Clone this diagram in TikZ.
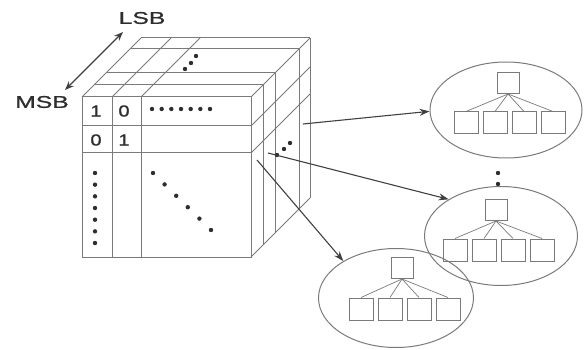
\documentclass[tikz,border=0pt]{standalone}
\usepackage{fontspec}
\setmainfont{Liberation Sans}
\newfontfamily\labelfont[FakeBold=0.8]{Liberation Sans}
\usetikzlibrary{shapes.geometric,arrows.meta}
\definecolor{edge}{gray}{0.48}
\definecolor{ink}{gray}{0.18}
\definecolor{arrowink}{gray}{0.25}

% a small tree: #1 name, #2/#3 root centre, #4 leaf row y, #5 first leaf x
\newcommand\treeat[5]{%
  \node[rootbox] (#1r) at (#2,#3) {};
  \foreach \k in {0,1,2,3} {
    \node[leafbox] (#1c\k) at ({#5+29*\k},#4) {};
    \draw[twig] (#1r.south) -- (#1c\k.north);
  }%
}

\begin{document}
\begin{tikzpicture}[x=1pt,y=-1pt,
  cube/.style={draw=edge, line width=1pt},
  rootbox/.style={draw=edge, line width=1pt, minimum width=22, minimum height=21, inner sep=0},
  leafbox/.style={draw=edge, line width=1pt, minimum width=24, minimum height=22, inner sep=0},
  twig/.style={draw=edge, line width=0.7pt},
  blob/.style={ellipse, draw=edge, line width=1pt, inner sep=0},
  lbl/.style={text=ink, font=\labelfont\fontsize{17}{17}\selectfont, xscale=1.45, inner sep=1},
  digit/.style={text=ink, font=\labelfont\fontsize{16}{16}\selectfont, xscale=1.25, inner sep=1},
  link/.style={draw=arrowink, line width=1.1pt, -{Stealth[length=10pt,width=7pt]}},
  dbl/.style={draw=arrowink, line width=1.1pt, {Stealth[length=9pt,width=7pt]}-{Stealth[length=9pt,width=7pt]}},
]
\useasboundingbox (0,0) rectangle (584,350);

% ---- the bit-matrix block ----
% top face slice edges and side verticals
\foreach \d in {0,12,24,48,59} {
  \draw[cube] ({82+\d},{97-\d}) -- ({251+\d},{97-\d});
  \draw[cube] ({251+\d},{97-\d}) -- ({251+\d},{257-\d});
}
% depth edges
\draw[cube] (82,97) -- (141,38);
\draw[cube] (251,97) -- (310,38);
\draw[cube] (251,257) -- (310,198);
% column lines on top, row lines on the side
\draw[cube] (112,97) -- (171,38);
\draw[cube] (141,97) -- (200,38);
\draw[cube] (251,126) -- (310,67);
\draw[cube] (251,153) -- (310,94);
% front face grid
\draw[cube] (82,97) rectangle (251,257);
\draw[cube] (112,97) -- (112,257);
\draw[cube] (141,97) -- (141,257);
\draw[cube] (82,126) -- (251,126);
\draw[cube] (82,153) -- (251,153);

% entries
\node[digit] (a11) at (96,111) {1};
\node[digit] (a12) at (124,111) {0};
\node[digit] (a21) at (96,140) {0};
\node[digit] (a22) at (124,140) {1};

% ellipsis dots
\foreach \i in {0,...,6} \fill[ink] ({152+9.67*\i},109) circle (2.2);
\foreach \i in {0,...,6} \fill[ink] (95,{173+11.67*\i}) circle (2.2);
\foreach \i in {0,...,5} \fill[ink] ({153+11.6*\i},{173+11.4*\i}) circle (2.2);
\foreach \p in {(185,69),(191,63),(196,56)} \fill[ink] \p circle (2.2);
\foreach \p in {(277,155),(284,149),(290,143)} \fill[ink] \p circle (2.2);
\foreach \p in {(498,173),(498,184)} \fill[ink] \p circle (2.2);

% bit-order labels
\node[lbl] (lsb) at (142,18) {LSB};
\node[lbl] (msb) at (42,102) {MSB};
\coordinate (msbend) at (65,90);
\coordinate (lsbend) at (123,32);
\draw[dbl] (msbend) -- (lsbend);

% ---- tree groups ----
\node[blob, minimum width=152, minimum height=96] (e1) at (506,110) {};
\node[blob, minimum width=153, minimum height=99] (e2) at (501,236) {};
\node[blob, minimum width=155, minimum height=99] (e3) at (396,298) {};
\treeat{t1}{508}{83}{123}{466}
\treeat{t2}{496}{210}{250}{455}
\treeat{t3}{402}{268}{309}{361}

% ---- links from the block to the trees ----
\coordinate (s1) at (303,124);
\coordinate (s2) at (268,153);
\coordinate (s3) at (257,160);
\draw[link] (s1) -- (e1.181);
\draw[link] (s2) -- (e2.145);
\draw[link] (s3) -- (e3.145);
\end{tikzpicture}
\end{document}
